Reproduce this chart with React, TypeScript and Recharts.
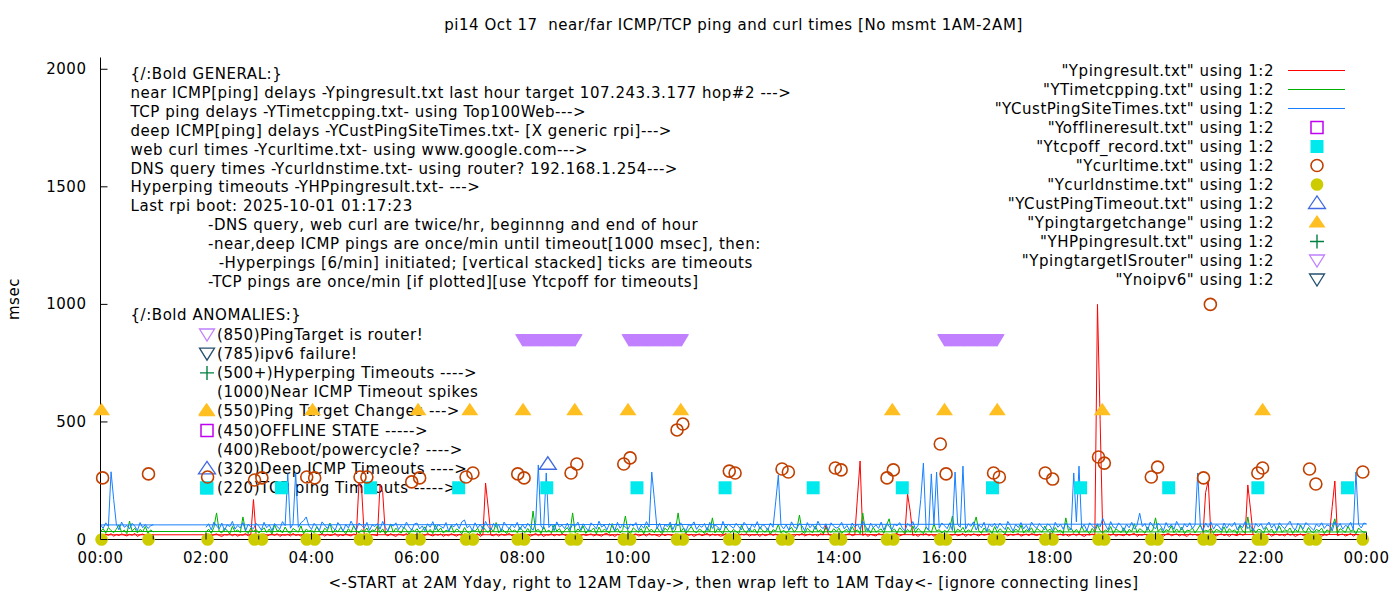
import React from "react";
import { ComposedChart, Line, Scatter, XAxis, YAxis, Legend, Customized } from "recharts";

const FONT = "'DejaVu Sans', sans-serif";
const FS = 15;
const LS = 0.55;
const W = 1400;
const H = 600;

// samples are 3 minutes apart; main run starts 02:00 and ends 24:00, then wraps to 00:00..01:00
const DAY_START = 2;
const WRAP_START = 0;
const STEP_H = 3 / 60;

// Ypingresult.txt - near ICMP ping (msec), one row per hour
const pingDay = [
  18, 22, 15, 20, 24, 17, 13, 21, 19, 25, 16, 23, 14, 20, 18, 26, 15, 22, 170, 19,
  21, 16, 24, 14, 19, 23, 17, 25, 13, 20, 18, 22, 15, 26, 17, 21, 14, 24, 19, 16,
  23, 15, 20, 18, 25, 14, 22, 17, 19, 26, 13, 21, 16, 24, 18, 15, 23, 20, 240, 215,
  17, 24, 14, 21, 19, 16, 235, 200, 22, 15, 25, 18, 13, 23, 20, 17, 26, 14, 21, 19,
  20, 14, 23, 17, 26, 19, 15, 22, 18, 24, 13, 21, 16, 25, 19, 14, 22, 17, 23, 20,
  15, 22, 18, 25, 13, 21, 240, 134, 19, 16, 24, 14, 23, 18, 20, 26, 15, 21, 17, 22,
  24, 17, 21, 14, 19, 26, 16, 23, 13, 20, 18, 25, 15, 22, 17, 24, 19, 14, 21, 16,
  19, 25, 13, 22, 17, 20, 24, 15, 21, 18, 14, 23, 26, 16, 20, 13, 22, 18, 25, 17,
  22, 16, 20, 24, 15, 18, 23, 14, 26, 19, 21, 17, 13, 24, 16, 22, 20, 15, 23, 18,
  14, 21, 25, 17, 22, 13, 19, 24, 16, 20, 26, 15, 23, 18, 21, 14, 17, 25, 19, 22,
  20, 17, 15, 23, 19, 25, 14, 21, 18, 22, 13, 24, 16, 20, 26, 17, 23, 15, 19, 21,
  16, 24, 19, 13, 22, 18, 26, 15, 20, 23, 17, 21, 14, 25, 19, 60, 22, 16, 24, 18,
  23, 19, 14, 21, 25, 16, 20, 180, 334, 17, 24, 13, 22, 18, 15, 26, 20, 23, 14, 21,
  18, 22, 26, 15, 20, 24, 194, 120, 17, 21, 13, 23, 19, 25, 16, 22, 14, 20, 24, 17,
  25, 14, 21, 18, 23, 16, 19, 26, 13, 22, 17, 24, 20, 15, 23, 18, 21, 25, 16, 19,
  13, 20, 17, 24, 15, 22, 18, 21, 25, 14, 19, 23, 16, 26, 20, 17, 22, 15, 24, 18,
  21, 26, 15, 19, 23, 17, 22, 14, 20, 24, 16, 25, 18, 13, 21, 19, 23, 17, 1000, 510,
  20, 15, 23, 18, 25, 14, 21, 19, 16, 24, 17, 22, 26, 13, 20, 18, 23, 15, 21, 19,
  17, 23, 19, 14, 22, 26, 16, 20, 24, 15, 21, 18, 13, 25, 19, 22, 16, 24, 17, 200,
  250, 18, 22, 15, 20, 24, 17, 21, 13, 23, 19, 16, 25, 18, 22, 232, 130, 20, 14, 24,
  16, 22, 19, 25, 14, 20, 23, 17, 21, 15, 26, 18, 22, 13, 19, 24, 16, 21, 25, 17,
  22, 17, 24, 14, 20, 18, 25, 140, 249, 16, 21, 23, 15, 19, 26, 14, 22, 18, 20, 23,
  21,
];
const pingWrap = [20, 16, 23, 18, 25, 14, 21, 17, 24, 19, 15, 22, 18, 26, 13, 20, 23, 16, 21, 17, 20];

// YTimetcpping.txt - TCP ping (msec)
const tcpDay = [
  31, 44, 26, 52, 113, 35, 28, 47, 39, 24, 56, 33, 41, 29, 96, 37, 25, 49, 34, 43,
  27, 38, 50, 30, 45, 23, 62, 36, 42, 28, 53, 33, 26, 47, 39, 31, 58, 25, 44, 35,
  40, 29, 55, 34, 24, 48, 37, 70, 27, 43, 32, 51, 38, 25, 46, 30, 59, 36, 28, 42,
  33, 49, 26, 41, 37, 57, 29, 45, 24, 39, 66, 31, 48, 35, 27, 52, 40, 23, 44, 34,
  46, 28, 38, 54, 30, 43, 25, 61, 36, 49, 27, 40, 33, 58, 29, 45, 37, 24, 51, 32,
  26, 42, 35, 48, 23, 56, 39, 30, 47, 34, 72, 28, 44, 37, 25, 50, 33, 41, 29, 53,
  38, 30, 47, 27, 121, 36, 43, 25, 55, 32, 40, 28, 63, 35, 46, 24, 39, 51, 31, 113,
  29, 45, 34, 58, 26, 41, 37, 49, 24, 53, 31, 44, 36, 27, 68, 33, 47, 28, 42, 100,
  35, 26, 50, 39, 31, 46, 24, 57, 37, 43, 29, 52, 34, 25, 48, 38, 61, 30, 41, 113,
  32, 48, 27, 41, 55, 35, 29, 44, 38, 25, 51, 33, 92, 28, 46, 36, 24, 57, 39, 30,
  43, 34, 25, 60, 37, 29, 49, 32, 45, 26, 54, 38, 31, 47, 23, 42, 36, 64, 28, 40,
  27, 39, 52, 31, 44, 104, 35, 26, 48, 37, 29, 58, 33, 42, 25, 50, 38, 30, 46, 34,
  48, 26, 37, 43, 29, 55, 33, 41, 24, 113, 36, 47, 28, 52, 31, 39, 45, 27, 60, 88,
  34, 45, 28, 50, 38, 25, 43, 32, 57, 29, 47, 36, 24, 53, 40, 30, 66, 35, 42, 27,
  39, 31, 47, 100, 26, 44, 35, 52, 29, 41, 33, 58, 96, 37, 27, 49, 34, 43, 25, 55,
  30, 46, 36, 24, 53, 38, 28, 45, 33, 61, 27, 42, 35, 50, 26, 47, 39, 31, 57, 36,
  44, 29, 51, 35, 40, 25, 92, 37, 48, 30, 43, 27, 56, 34, 39, 24, 47, 32, 62, 38,
  28, 41, 33, 55, 26, 45, 37, 30, 50, 24, 43, 35, 67, 29, 46, 38, 27, 52, 33, 40,
  92, 34, 47, 27, 42, 36, 58, 29, 45, 31, 53, 25, 40, 37, 49, 28, 44, 63, 32, 39,
  35, 48, 26, 43, 38, 31, 54, 27, 46, 34, 41, 24, 59, 36, 29, 96, 33, 47, 28, 44,
  40, 27, 52, 33, 45, 25, 38, 57, 30, 42, 35, 49, 26, 44, 31, 62, 37, 28, 51, 34,
  29, 43, 36, 48, 25, 41, 33, 54, 88, 27, 46, 38, 30, 56, 35, 42, 24, 49, 37, 31,
  32,
];
const tcpWrap = [34, 46, 27, 51, 38, 29, 44, 62, 31, 40, 25, 78, 36, 48, 28, 43, 33, 55, 26, 41, 32];

// YCustPingSiteTimes.txt - deep ICMP ping (msec)
const custDay = [
  52, 67, 41, 74, 58, 45, 70, 38, 63, 55, 77, 44, 60, 49, 72, 36, 65, 53, 46, 69,
  57, 40, 73, 50, 62, 37, 68, 54, 45, 76, 59, 280, 48, 66, 285, 52, 71, 80, 96, 58,
  43, 69, 55, 38, 75, 61, 47, 66, 52, 40, 72, 58, 35, 64, 49, 78, 56, 42, 70, 60,
  48, 73, 39, 62, 55, 68, 44, 77, 51, 36, 65, 57, 71, 42, 60, 47, 74, 53, 39, 66,
  70, 45, 58, 37, 67, 52, 76, 41, 63, 56, 48, 72, 35, 61, 54, 69, 46, 75, 83, 50,
  59, 38, 71, 49, 64, 43, 77, 55, 40, 68, 52, 62, 36, 74, 57, 45, 66, 50, 73, 41,
  63, 47, 69, 54, 39, 72, 317, 58, 44, 283, 51, 66, 37, 75, 53, 61, 46, 70, 42, 64,
  55, 74, 40, 67, 50, 36, 71, 59, 45, 78, 53, 62, 41, 68, 56, 38, 73, 48, 65, 52,
  44, 66, 57, 72, 39, 61, 48, 76, 53, 287, 170, 46, 69, 35, 63, 55, 74, 42, 67, 58,
  71, 50, 37, 64, 56, 75, 43, 60, 52, 68, 38, 73, 47, 62, 54, 40, 77, 49, 65, 57,
  48, 69, 54, 41, 73, 59, 36, 66, 51, 76, 44, 63, 57, 39, 70, 52, 160, 274, 61, 45,
  62, 40, 75, 53, 47, 68, 58, 37, 72, 50, 64, 43, 78, 55, 46, 67, 39, 71, 56, 49,
  54, 73, 45, 60, 38, 70, 52, 65, 43, 77, 58, 36, 69, 51, 62, 47, 74, 40, 66, 57,
  41, 65, 58, 72, 49, 37, 68, 55, 76, 44, 61, 170, 325, 53, 39, 279, 64, 287, 48, 70,
  59, 46, 71, 38, 287, 63, 52, 312, 44, 67, 56, 75, 40, 62, 50, 73, 35, 66, 54, 69,
  47, 70, 55, 42, 77, 58, 36, 64, 51, 72, 45, 61, 39, 74, 57, 48, 68, 53, 41, 66,
  60, 38, 73, 52, 65, 44, 69, 56, 40, 283, 75, 312, 49, 63, 37, 71, 58, 46, 67, 54,
  90, 62, 41, 76, 53, 47, 70, 59, 36, 65, 50, 73, 44, 61, 112, 55, 68, 39, 74, 57,
  45, 69, 58, 37, 72, 51, 64, 43, 77, 56, 40, 67, 53, 71, 46, 62, 283, 60, 38, 70,
  52, 75, 44, 63, 57, 39, 70, 48, 66, 55, 73, 41, 62, 50, 76, 46, 59, 36, 68, 54,
  67, 43, 58, 74, 49, 65, 37, 71, 56, 46, 63, 78, 52, 40, 69, 57, 45, 72, 61, 50,
  39, 66, 54, 71, 47, 62, 58, 36, 75, 51, 68, 44, 60, 55, 73, 42, 287, 64, 49, 70,
  66,
];
const custWrap = [62, 48, 71, 55, 288, 170, 66, 41, 74, 52, 60, 45, 69, 57, 38, 72, 50, 64, 47, 58, 63];

// Ycurltime.txt - web curl (msec), and Ycurldnstime.txt drawn at 0
const curlTimes = [0.04, 0.91, 2.03, 2.92, 3.06, 3.91, 4.06, 4.92, 5.05, 5.9, 6.05, 6.93, 7.06, 7.91, 8.03, 8.92, 9.03, 9.92, 10.04, 10.93, 11.04, 11.92, 12.03, 12.92, 13.04, 13.93, 14.04, 14.91, 15.03, 15.92, 16.03, 16.93, 17.04, 17.91, 18.05, 18.92, 19.03, 19.92, 20.04, 20.91, 21.04, 21.94, 22.03, 22.92, 23.04, 23.93];
const curlMs = [262, 279, 266, 253, 262, 266, 262, 266, 266, 245, 262, 266, 283, 279, 262, 283, 321, 321, 347, 466, 491, 291, 283, 300, 287, 304, 296, 262, 296, 406, 279, 283, 266, 283, 257, 351, 325, 266, 308, 262, 1000, 283, 304, 300, 236, 287];
const dnsTimes = [0.02, 0.91, 2.03, 2.92, 3.06, 3.91, 4.06, 4.92, 5.05, 5.9, 6.05, 6.93, 7.06, 7.91, 8.03, 8.92, 9.03, 9.92, 10.04, 10.93, 11.04, 11.92, 12.03, 12.92, 13.04, 13.93, 14.04, 14.91, 15.03, 15.92, 16.03, 16.93, 17.04, 17.91, 18.05, 18.92, 19.03, 19.92, 20.04, 20.91, 21.04, 21.94, 22.03, 22.92, 23.04, 23.93];

const tcpOffTimes = [2.01, 3.43, 5.12, 6.79, 8.46, 10.17, 11.84, 13.51, 15.2, 16.91, 18.58, 20.25, 21.94, 23.64];
const custTimeoutTimes = [8.48];
const targetChangeTimes = [0.02, 2.01, 4.02, 6.02, 7.0, 8.01, 8.99, 10.0, 11.0, 15.01, 16.0, 17.0, 18.99, 22.03];
// YpingtargetISrouter - minute of day, one sample per minute
const isRouterMinutes = [
  480, 481, 482, 483, 484, 485, 486, 487, 488, 489, 490, 491, 492, 493, 494, 495, 496, 497, 498, 499,
  500, 501, 502, 503, 504, 505, 506, 507, 508, 509, 510, 511, 512, 513, 514, 515, 516, 517, 518, 519,
  520, 521, 522, 523, 524, 525, 526, 527, 528, 529, 530, 531, 532, 533, 534, 535, 536, 537, 538, 539, 540,
  601, 602, 603, 604, 605, 606, 607, 608, 609, 610, 611, 612, 613, 614, 615, 616, 617, 618, 619, 620,
  621, 622, 623, 624, 625, 626, 627, 628, 629, 630, 631, 632, 633, 634, 635, 636, 637, 638, 639, 640,
  641, 642, 643, 644, 645, 646, 647, 648, 649, 650, 651, 652, 653, 654, 655, 656, 657, 658, 659, 660, 661,
  960, 961, 962, 963, 964, 965, 966, 967, 968, 969, 970, 971, 972, 973, 974, 975, 976, 977, 978, 979,
  980, 981, 982, 983, 984, 985, 986, 987, 988, 989, 990, 991, 992, 993, 994, 995, 996, 997, 998, 999,
  1000, 1001, 1002, 1003, 1004, 1005, 1006, 1007, 1008, 1009, 1010, 1011, 1012, 1013, 1014, 1015, 1016, 1017, 1018, 1019, 1020,
];

const xTicks = [0, 1, 2, 3, 4, 5, 6, 7, 8, 9, 10, 11, 12, 13, 14, 15, 16, 17, 18, 19, 20, 21, 22, 23, 24];
const yTicks = [0, 500, 1000, 1500, 2000];

const title = "pi14 Oct 17  near/far ICMP/TCP ping and curl times [No msmt 1AM-2AM]";
const xLabel = "<-START at 2AM Yday, right to 12AM Tday->, then wrap left to 1AM Tday<- [ignore connecting lines]";

const generalNotes = [
  "{/:Bold GENERAL:}",
  "near ICMP[ping] delays -Ypingresult.txt last hour target 107.243.3.177 hop#2 --->",
  "TCP ping delays -YTimetcpping.txt- using Top100Web--->",
  "deep ICMP[ping] delays -YCustPingSiteTimes.txt- [X generic rpi]--->",
  "web curl times -Ycurltime.txt- using www.google.com--->",
  "DNS query times -Ycurldnstime.txt- using router? 192.168.1.254--->",
  "Hyperping timeouts -YHPpingresult.txt- --->",
  "Last rpi boot: 2025-10-01 01:17:23",
];
const detailNotes = [
  "-DNS query, web curl are twice/hr, beginnng and end of hour",
  "-near,deep ICMP pings are once/min until timeout[1000 msec], then:",
  "  -Hyperpings [6/min] initiated; [vertical stacked] ticks are timeouts",
  "-TCP pings are once/min [if plotted][use Ytcpoff for timeouts]",
];
const anomalyNotes = [
  { text: "(850)PingTarget is router!", mark: "isrouter" },
  { text: "(785)ipv6 failure!", mark: "noipv6" },
  { text: "(500+)Hyperping Timeouts ---->", mark: "hp" },
  { text: "(1000)Near ICMP Timeout spikes", mark: "" },
  { text: "(550)Ping Target Changes --->", mark: "target" },
  { text: "(450)OFFLINE STATE ----->", mark: "offline" },
  { text: "(400)Reboot/powercycle? ---->", mark: "" },
  { text: "(320)Deep ICMP Timeouts ---->", mark: "custTimeout" },
  { text: "(220)TCP ping Timeouts ----->", mark: "tcpoff" },
];

const series: Record<string, { label: string; color: string; kind: string }> = {
  ping: { label: '"Ypingresult.txt" using 1:2', color: "#ff0000", kind: "line" },
  tcp: { label: '"YTimetcpping.txt" using 1:2', color: "#00b000", kind: "line" },
  cust: { label: '"YCustPingSiteTimes.txt" using 1:2', color: "#1680ff", kind: "line" },
  offline: { label: '"Yofflineresult.txt" using 1:2', color: "#c000f0", kind: "squareOpen" },
  tcpoff: { label: '"Ytcpoff_record.txt" using 1:2', color: "#00eaee", kind: "squareFill" },
  curl: { label: '"Ycurltime.txt" using 1:2', color: "#c04000", kind: "circleOpen" },
  dns: { label: '"Ycurldnstime.txt" using 1:2', color: "#cccc00", kind: "circleFill" },
  custTimeout: { label: '"YCustPingTimeout.txt" using 1:2', color: "#4169e1", kind: "triUpOpen" },
  target: { label: '"Ypingtargetchange" using 1:2', color: "#ffbf20", kind: "triUpFill" },
  hp: { label: '"YHPpingresult.txt" using 1:2', color: "#008040", kind: "plus" },
  isrouter: { label: '"YpingtargetISrouter" using 1:2', color: "#c080ff", kind: "triDownOpen" },
  noipv6: { label: '"Ynoipv6" using 1:2', color: "#24506e", kind: "triDownOpen" },
};
const legendOrder = ["ping", "tcp", "cust", "offline", "tcpoff", "curl", "dns", "custTimeout", "target", "hp", "isrouter", "noipv6"];

const toLine = (day: number[], wrap: number[]) => [
  ...day.map((v, i) => ({ t: DAY_START + i * STEP_H, v })),
  ...wrap.map((v, i) => ({ t: WRAP_START + i * STEP_H, v })),
];
const toPoints = (times: number[], values: number[] | number) =>
  times.map((t, i) => ({ t, v: Array.isArray(values) ? values[i] : values }));

const pingData = toLine(pingDay, pingWrap);
const tcpData = toLine(tcpDay, tcpWrap);
const custData = toLine(custDay, custWrap);
const curlData = toPoints(curlTimes, curlMs);
const dnsData = toPoints(dnsTimes, 0);
const tcpOffData = toPoints(tcpOffTimes, 220);
const custTimeoutData = toPoints(custTimeoutTimes, 320);
const targetData = toPoints(targetChangeTimes, 550);
const isRouterData = toPoints(isRouterMinutes.map((m) => m / 60), 850);

const Marker = ({ kind, color, cx, cy }: { kind: string; color: string; cx: number; cy: number }) => {
  switch (kind) {
    case "squareOpen":
      return <rect x={cx - 6} y={cy - 6} width={12} height={12} fill="none" stroke={color} strokeWidth={1.5} />;
    case "squareFill":
      return <rect x={cx - 6.5} y={cy - 6.5} width={13} height={13} fill={color} />;
    case "circleOpen":
      return <circle cx={cx} cy={cy} r={6} fill="none" stroke={color} strokeWidth={1.6} />;
    case "circleFill":
      return <circle cx={cx} cy={cy} r={6.3} fill={color} />;
    case "triUpOpen":
      return <path d={`M${cx - 8.5},${cy + 5} L${cx + 8.5},${cy + 5} L${cx},${cy - 7.5} Z`} fill="none" stroke={color} strokeWidth={1.3} />;
    case "triUpFill":
      return <path d={`M${cx - 8.5},${cy + 5} L${cx + 8.5},${cy + 5} L${cx},${cy - 7.5} Z`} fill={color} />;
    case "plus":
      return <path d={`M${cx - 7},${cy} H${cx + 7} M${cx},${cy - 7} V${cy + 7}`} stroke={color} strokeWidth={1.4} />;
    case "triDownOpen":
      return <path d={`M${cx - 7.5},${cy - 5.5} L${cx + 7.5},${cy - 5.5} L${cx},${cy + 6.5} Z`} fill="none" stroke={color} strokeWidth={1.3} />;
    case "triDownFill":
      return <path d={`M${cx - 7.5},${cy - 5.5} L${cx + 7.5},${cy - 5.5} L${cx},${cy + 7} Z`} fill={color} />;
    default:
      return null;
  }
};

const shapeOf = (kind: string, color: string) => (p: any) => <Marker kind={kind} color={color} cx={p.cx} cy={p.cy} />;

const hourLabel = (h: number) => `${String(h % 24).padStart(2, "0")}:00`;

const BottomTick = (props: any) => {
  const { x, y, payload } = props;
  const major = payload.value % 2 === 0;
  return (
    <g>
      <line x1={x} x2={x} y1={y} y2={y - (major ? 7 : 4)} stroke="#000" />
      {major && (
        <text x={x} y={y + 18} textAnchor="middle" dominantBaseline="central" fontFamily={FONT} fontSize={FS} letterSpacing={LS} fill="#000">
          {hourLabel(payload.value)}
        </text>
      )}
    </g>
  );
};

const TopTick = (props: any) => {
  const { x, y, payload } = props;
  const major = payload.value % 2 === 0;
  return <line x1={x} x2={x} y1={y} y2={y + (major ? 7 : 4)} stroke="#000" />;
};

const LeftTick = (props: any) => {
  const { x, y, payload } = props;
  return (
    <g>
      <line x1={x} x2={x + 7} y1={y} y2={y} stroke="#000" />
      <text x={x - 14} y={y} textAnchor="end" dominantBaseline="central" fontFamily={FONT} fontSize={FS} letterSpacing={LS} fill="#000">
        {payload.value}
      </text>
    </g>
  );
};

const RightTick = (props: any) => {
  const { x, y } = props;
  return <line x1={x} x2={x - 7} y1={y} y2={y} stroke="#000" />;
};

const Notes = () => (
  <g fontFamily={FONT} fontSize={FS} fill="#000" letterSpacing={LS}>
    <text xmlSpace="preserve" x={733.5} y={25} textAnchor="middle" dominantBaseline="central">{title}</text>
    <text x={733.5} y={583} textAnchor="middle" dominantBaseline="central">{xLabel}</text>
    <text x={14} y={299} textAnchor="middle" dominantBaseline="central" transform="rotate(-90 14 299)">msec</text>
    {generalNotes.map((s, i) => (
      <text key={s} x={130.5} y={74 + i * 18.9} dominantBaseline="central">{s}</text>
    ))}
    {detailNotes.map((s, i) => (
      <text key={s} xmlSpace="preserve" x={208} y={225.2 + i * 18.9} dominantBaseline="central">{s}</text>
    ))}
    <text x={130.5} y={315} dominantBaseline="central">{"{/:Bold ANOMALIES:}"}</text>
    {anomalyNotes.map((a, i) => (
      <g key={a.text}>
        {a.mark && <Marker kind={series[a.mark].kind} color={series[a.mark].color} cx={207} cy={334.5 + i * 19.2} />}
        <text x={217} y={334.5 + i * 19.2} dominantBaseline="central">{a.text}</text>
      </g>
    ))}
  </g>
);

const KeyBox = () => (
  <div style={{ fontFamily: FONT, fontSize: FS, letterSpacing: LS, color: "#000" }}>
    {legendOrder.map((k) => {
      const s = series[k];
      return (
        <div key={k} style={{ display: "flex", alignItems: "center", justifyContent: "flex-end", height: 19 }}>
          <span style={{ whiteSpace: "pre" }}>{s.label}</span>
          <svg width={76} height={19} style={{ display: "block" }}>
            {s.kind === "line" ? (
              <line x1={14} x2={71} y1={9.5} y2={9.5} stroke={s.color} strokeWidth={1} />
            ) : (
              <Marker kind={s.kind} color={s.color} cx={43} cy={9.5} />
            )}
          </svg>
        </div>
      );
    })}
  </div>
);

export default function App() {
  return (
    <div style={{ position: "absolute", left: 0, top: 0, width: W, height: H, background: "#fff" }}>
      <ComposedChart width={W} height={H} margin={{ top: 57.5, right: 33.5, bottom: 30.5, left: 40.5 }}>
        <Customized component={Notes} />
        <XAxis
          dataKey="t"
          type="number"
          domain={[0, 24]}
          ticks={xTicks}
          interval={0}
          height={30}
          tickSize={0}
          tickMargin={0}
          tickLine={false}
          axisLine={{ stroke: "#000" }}
          tick={<BottomTick />}
        />
        <XAxis
          xAxisId="top"
          orientation="top"
          dataKey="t"
          type="number"
          domain={[0, 24]}
          ticks={xTicks}
          interval={0}
          height={0}
          tickSize={0}
          tickMargin={0}
          tickLine={false}
          axisLine={{ stroke: "#000" }}
          tick={<TopTick />}
        />
        <YAxis
          dataKey="v"
          type="number"
          domain={[0, 2050]}
          ticks={yTicks}
          interval={0}
          width={60}
          tickSize={0}
          tickMargin={0}
          tickLine={false}
          axisLine={{ stroke: "#000" }}
          tick={<LeftTick />}
        />
        <YAxis
          yAxisId="right"
          orientation="right"
          type="number"
          domain={[0, 2050]}
          ticks={yTicks}
          interval={0}
          width={0}
          tickSize={0}
          tickMargin={0}
          tickLine={false}
          axisLine={{ stroke: "#000" }}
          tick={<RightTick />}
        />
        <Legend
          layout="horizontal"
          verticalAlign="middle"
          align="center"
          content={<KeyBox />}
          wrapperStyle={{ position: "absolute", left: 900, top: 61, width: 450, height: "auto" }}
        />
        <Line data={pingData} dataKey="v" name={series.ping.label} stroke={series.ping.color} strokeWidth={1} dot={false} activeDot={false} type="linear" isAnimationActive={false} />
        <Line data={tcpData} dataKey="v" name={series.tcp.label} stroke={series.tcp.color} strokeWidth={1} dot={false} activeDot={false} type="linear" isAnimationActive={false} />
        <Line data={custData} dataKey="v" name={series.cust.label} stroke={series.cust.color} strokeWidth={1} dot={false} activeDot={false} type="linear" isAnimationActive={false} />
        <Scatter data={tcpOffData} dataKey="v" name={series.tcpoff.label} shape={shapeOf("squareFill", series.tcpoff.color)} isAnimationActive={false} />
        <Scatter data={curlData} dataKey="v" name={series.curl.label} shape={shapeOf("circleOpen", series.curl.color)} isAnimationActive={false} />
        <Scatter data={dnsData} dataKey="v" name={series.dns.label} shape={shapeOf("circleFill", series.dns.color)} isAnimationActive={false} />
        <Scatter data={custTimeoutData} dataKey="v" name={series.custTimeout.label} shape={shapeOf("triUpOpen", series.custTimeout.color)} isAnimationActive={false} />
        <Scatter data={targetData} dataKey="v" name={series.target.label} shape={shapeOf("triUpFill", series.target.color)} isAnimationActive={false} />
        <Scatter data={isRouterData} dataKey="v" name={series.isrouter.label} shape={shapeOf("triDownFill", series.isrouter.color)} isAnimationActive={false} />
      </ComposedChart>
    </div>
  );
}
